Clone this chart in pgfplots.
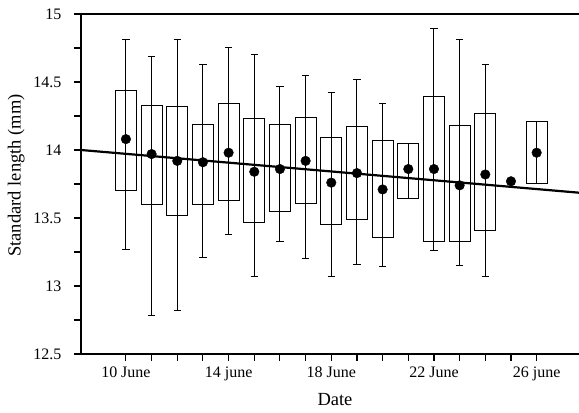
\documentclass[border=0pt]{standalone}
\usepackage{fontspec}
\setmainfont{Liberation Serif}
\usepackage{pgfplots}
\pgfplotsset{compat=1.18}
\usepgfplotslibrary{statistics}
\begin{document}
\begin{tikzpicture}
\begin{axis}[
  scale only axis, width=498pt, height=340pt,
  xmin=8.25, xmax=27.65, ymin=12.5, ymax=15,
  axis x line*=bottom, axis y line*=left,
  axis line style={line width=1.2pt, black},
  every tick/.style={line width=1.1pt, black},
  every minor tick/.style={line width=1.1pt, black},
  tick align=outside,
  major tick length=7pt, minor tick length=7pt,
  xtick={10,11,12,13,14,15,16,17,18,19,20,21,22,23,24,25,26},
  xticklabels={10 June,,,,14 june,,,,18 June,,,,22 June,,,,26 june},
  ytick={12.5,13,13.5,14,14.5,15},
  yticklabels={12.5,13,13.5,14,14.5,15},
  minor ytick={12.75,13.25,13.75,14.25,14.75},
  ticklabel style={font=\fontsize{16}{19}\selectfont},
  xticklabel style={yshift=-2pt},
  yticklabel style={xshift=-9pt},
  label style={font=\fontsize{18.5}{22}\selectfont},
  xlabel={Date}, ylabel={Standard length (mm)},
  xlabel style={at={(axis description cs:0.51,0)}, anchor=base, yshift=-52pt},
  ylabel style={at={(axis description cs:-0.13,0.525)}, anchor=center},
  clip=false,
  boxplot/draw direction=y,
  boxplot/box extend=0.82,
  boxplot/whisker extend=0.28,
  boxplot/draw/median/.code={%
    \draw[/pgfplots/boxplot/every median/.try]
      (boxplot box cs:\pgfplotsboxplotvalue{lower quartile},0.5) --
      (boxplot box cs:\pgfplotsboxplotvalue{upper quartile},0.5);},
  bx/.style={black, line width=1pt, solid, mark=none},
]
\draw[line width=1.2pt] (rel axis cs:0,1) -- (rel axis cs:1,1);
\addplot[bx, boxplot prepared={draw position=10, lower whisker=13.27, lower quartile=13.70, median=14.08, upper quartile=14.44, upper whisker=14.81}] coordinates {};
\addplot[bx, boxplot prepared={draw position=11, lower whisker=12.78, lower quartile=13.60, median=13.97, upper quartile=14.33, upper whisker=14.69}] coordinates {};
\addplot[bx, boxplot prepared={draw position=12, lower whisker=12.82, lower quartile=13.52, median=13.92, upper quartile=14.32, upper whisker=14.81}] coordinates {};
\addplot[bx, boxplot prepared={draw position=13, lower whisker=13.21, lower quartile=13.60, median=13.91, upper quartile=14.19, upper whisker=14.63}] coordinates {};
\addplot[bx, boxplot prepared={draw position=14, lower whisker=13.38, lower quartile=13.63, median=13.98, upper quartile=14.34, upper whisker=14.75}] coordinates {};
\addplot[bx, boxplot prepared={draw position=15, lower whisker=13.07, lower quartile=13.47, median=13.84, upper quartile=14.23, upper whisker=14.70}] coordinates {};
\addplot[bx, boxplot prepared={draw position=16, lower whisker=13.33, lower quartile=13.55, median=13.86, upper quartile=14.19, upper whisker=14.47}] coordinates {};
\addplot[bx, boxplot prepared={draw position=17, lower whisker=13.20, lower quartile=13.61, median=13.92, upper quartile=14.24, upper whisker=14.55}] coordinates {};
\addplot[bx, boxplot prepared={draw position=18, lower whisker=13.07, lower quartile=13.45, median=13.76, upper quartile=14.09, upper whisker=14.42}] coordinates {};
\addplot[bx, boxplot prepared={draw position=19, lower whisker=13.16, lower quartile=13.49, median=13.83, upper quartile=14.17, upper whisker=14.52}] coordinates {};
\addplot[bx, boxplot prepared={draw position=20, lower whisker=13.14, lower quartile=13.36, median=13.71, upper quartile=14.07, upper whisker=14.34}] coordinates {};
\addplot[bx, boxplot prepared={draw position=21, lower whisker=13.64, lower quartile=13.64, median=13.86, upper quartile=14.05, upper whisker=14.05}] coordinates {};
\addplot[bx, boxplot prepared={draw position=22, lower whisker=13.26, lower quartile=13.33, median=13.86, upper quartile=14.39, upper whisker=14.89}] coordinates {};
\addplot[bx, boxplot prepared={draw position=23, lower whisker=13.15, lower quartile=13.33, median=13.74, upper quartile=14.18, upper whisker=14.81}] coordinates {};
\addplot[bx, boxplot prepared={draw position=24, lower whisker=13.07, lower quartile=13.41, median=13.82, upper quartile=14.27, upper whisker=14.63}] coordinates {};
\addplot[bx, boxplot prepared={draw position=26, lower whisker=13.75, lower quartile=13.75, median=13.98, upper quartile=14.21, upper whisker=14.21}] coordinates {};
\addplot[black, line width=2.2pt, mark=none] coordinates {(8.25,14.0) (27.65,13.686)};
\addplot[only marks, mark=*, mark size=4.8pt, black] coordinates {
(10,14.08) (11,13.97) (12,13.92) (13,13.91) (14,13.98) (15,13.84) (16,13.86) (17,13.92)
(18,13.76) (19,13.83) (20,13.71) (21,13.86) (22,13.86) (23,13.74) (24,13.82) (25,13.77) (26,13.98)};
\end{axis}
\pgfresetboundingbox
\path[use as bounding box] ([xshift=-81pt,yshift=-59pt]current axis.south west) rectangle ([yshift=14pt]current axis.north east);
\end{tikzpicture}
\end{document}
